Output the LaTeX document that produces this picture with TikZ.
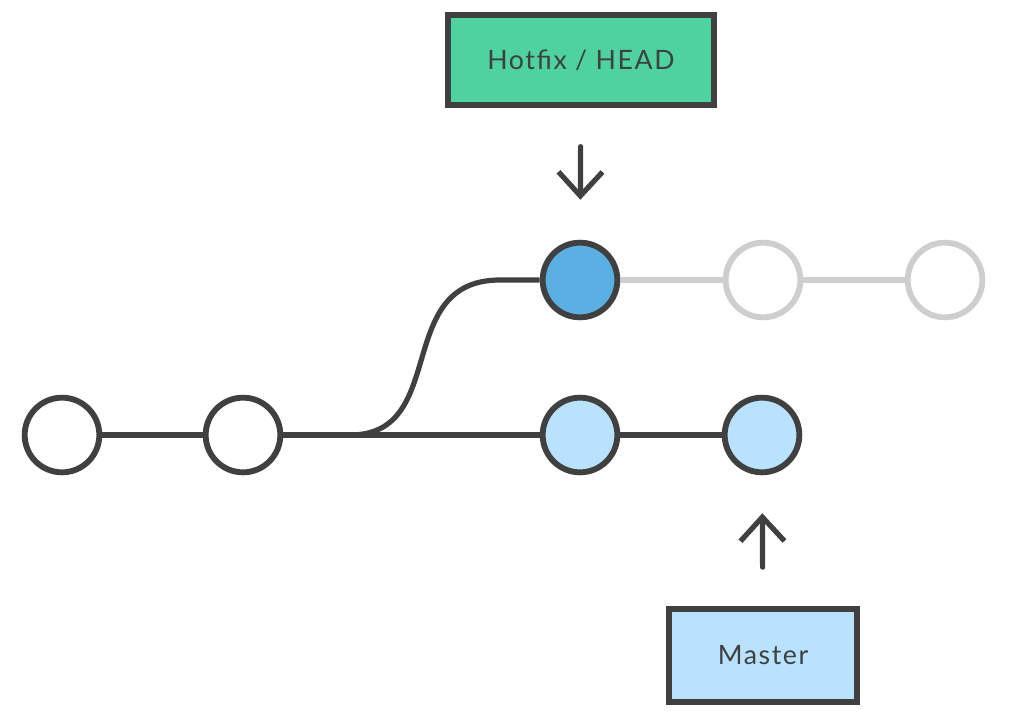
\documentclass[tikz,border=0pt]{standalone}
\usepackage{fontspec}
\setmainfont{Lato}[LetterSpace=6]
\usetikzlibrary{arrows.meta}
\definecolor{strokegray}{RGB}{64, 64, 64}
\definecolor{hotfixgreen}{RGB}{77, 210, 160}
\definecolor{headblue}{RGB}{90, 175, 227}
\definecolor{masterblue}{RGB}{184, 226, 253}
\definecolor{ghostgray}{RGB}{206, 206, 206}
\tikzset{
  commit/.style={draw=strokegray, circle, line width=4.4pt, minimum size=56pt, fill=white, inner sep=0pt},
  ghost/.style={commit, draw=ghostgray},
  branchbox/.style={draw=strokegray, rectangle, line width=4.5pt, text=strokegray, font=\fontsize{20}{24}\selectfont},
  link/.style={strokegray, line width=3.9pt},
  pointer/.style={strokegray, line width=3.9pt, line cap=round, line join=round, -{Straight Barb[length=18pt, width=33pt]}}
}
\begin{document}
\begin{tikzpicture}[x=0.75pt, y=-0.75pt]
            \useasboundingbox (0,0) rectangle (1034,724);
            % Main line commits
            \node[commit] (c1) at (62,435) {};
            \node[commit] (c2) at (243,435) {};
            \node[commit, fill=masterblue] (m1) at (580,435) {};
            \node[commit, fill=masterblue] (m2) at (762,435) {};
            
            % Hotfix commits
            \node[commit, fill=headblue] (h1) at (580,280) {};
            \node[ghost] (g1) at (763,280) {};
            \node[ghost] (g2) at (945,280) {};
            
            % Branch labels
            \node[branchbox, fill=hotfixgreen, minimum width=199.5pt, minimum height=67.5pt] (hotfix) at (581,60) {Hotfix / HEAD};
            \node[branchbox, fill=masterblue, minimum width=141pt, minimum height=70pt] (master) at (763,655.5) {Master};
            
            % Fork point
            \coordinate (fork) at (350,435);
            \coordinate (bend) at (500,280);
            
            % Links
            \draw[link] (c1) -- (c2);
            \draw[link] (c2) -- (m1);
            \draw[link] (m1) -- (m2);
            \draw[link] (fork) .. controls (450,435) and (392,280) .. (bend) -- (h1);
            \draw[ghostgray, line width=3.9pt] (h1) -- (g1);
            \draw[ghostgray, line width=3.9pt] (g1) -- (g2);
            
            % Arrows
            \draw[pointer, shorten <=29pt, shorten >=30pt] (hotfix) -- (h1);
            \draw[pointer, shorten <=29pt, shorten >=28.5pt] (master) -- (m2);
        \end{tikzpicture}
\end{document}
